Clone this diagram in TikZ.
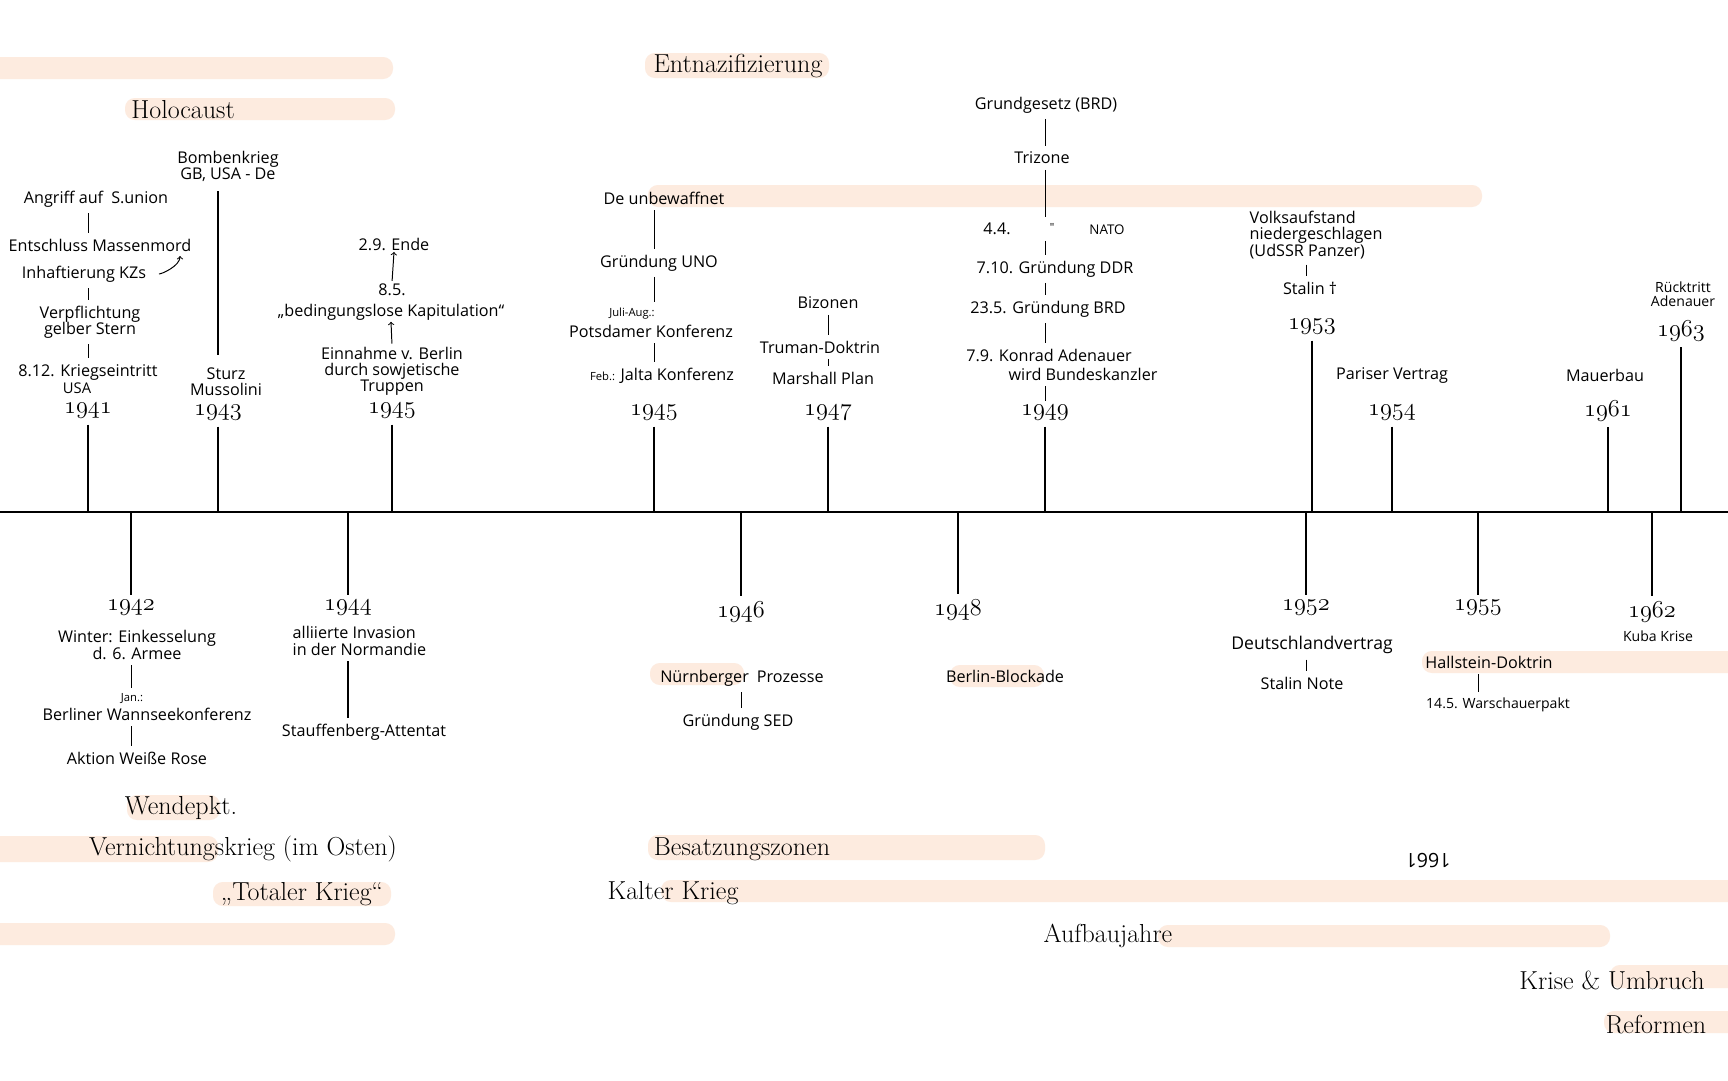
\documentclass[tikz,border=0pt]{standalone}
\usepackage{fontspec}
\newfontfamily\handfont{Open Sans}
\definecolor{peach}{RGB}{253,235,223}
\newcommand{\yr}[1]{{\usefont{OML}{cmm}{m}{it}#1}}
\tikzset{
  hand/.style={font=\handfont\fontsize{11.5}{11.5}\selectfont, inner sep=1pt, align=center},
  handsmall/.style={hand, font=\handfont\fontsize{8}{8}\selectfont},
  era/.style={font=\fontsize{18.5}{18.5}\selectfont, inner sep=0pt},
  year/.style={font=\fontsize{17}{17}\selectfont, inner sep=0pt},
  band/.style={fill=peach, rounded corners=7pt},
  stem/.style={line width=1.1pt},
  tick/.style={line width=0.7pt, shorten <=3pt, shorten >=3pt},
  axis/.style={line width=1.3pt}
}
\begin{document}
\begin{tikzpicture}[x=0.025cm, y=-0.025cm]
  \useasboundingbox[fill=white] (0,0) rectangle (1728,1080);

  % highlight bands
  \fill[band] (-20,57) rectangle (393,79);
  \fill[band] (125,98) rectangle (395,120);
  \fill[band] (645,53) rectangle (829,78);
  \fill[band] (648,185) rectangle (1482,207);
  \fill[band] (127,795) rectangle (220,820);
  \fill[band] (-20,836) rectangle (218,862);
  \fill[band] (213,882) rectangle (391,906);
  \fill[band] (-20,923) rectangle (395,945);
  \fill[band] (648,835) rectangle (1045,860);
  \fill[band] (661,880) rectangle (1750,902);
  \fill[band] (1158,925) rectangle (1610,947);
  \fill[band] (1610,965) rectangle (1750,988);
  \fill[band] (1604,1011) rectangle (1750,1033);
  \fill[band] (650,663) rectangle (744,685);
  \fill[band] (950,665) rectangle (1044,687);
  \fill[band] (1422,651) rectangle (1750,673);

  % axis
  \coordinate (axisL) at (0,512);
  \coordinate (axisR) at (1728,512);
  \draw[axis] (axisL) -- (axisR);

  % eras
  \node[era] (hol) at (183,110) {Holocaust};
  \node[era] (entn) at (738,66) {Entnazifizierung};
  \node[era] (wen) at (181,808) {Wendepkt.};
  \node[era] (vern) at (243,849) {Vernichtungskrieg (im Osten)};
  \node[era] (tot) at (302,894) {„Totaler Krieg“};
  \node[era] (besa) at (742,849) {Besatzungszonen};
  \node[era] (kalt) at (673,893) {Kalter Krieg};
  \node[era] (aufb) at (1108,936) {Aufbaujahre};
  \node[era] (kris) at (1612,980) {Krise \& Umbruch};
  \node[era] (refo) at (1656,1025) {Reformen};
  \node[hand, font=\handfont\fontsize{14}{14}\selectfont, rotate=180] (scrib) at (1428,861) {1661};

  % years above the axis
  \foreach \n/\x/\y/\t in {41/88/411/1941, 43/218/413/1943, 45a/392/411/1945, 45b/654/413/1945,
                           47/828/413/1947, 49/1045/413/1949, 53/1312/327/1953, 54/1392/413/1954,
                           61/1608/411/1961, 63/1681/331/1963}{
    \node[year] (y\n) at (\x,\y) {\yr{\t}};
    \draw[stem, shorten <=4pt] (y\n.south) -- (y\n.south |- axisL);
  }

  % years below the axis
  \foreach \n/\x/\y in {42/131/608, 44/348/608, 46/741/612, 48/958/610,
                        52/1306/608, 55/1478/608, 62/1652/612}{
    \node[year] (y\n) at (\x,\y) {\yr{19\n}};
    \draw[stem, shorten >=4pt] (y\n.north |- axisL) -- (y\n.north);
  }

  % 1941
  \node[hand] (ang41) at (96,199) {Angriff auf\enspace S.union};
  \node[hand] (ent41) at (100,245) {Entschluss Massenmord};
  \node[hand] (inh41) at (84,274) {Inhaftierung KZs};
  \node[hand] (ver41) at (90,322) {Verpflichtung\\gelber Stern};
  \node[hand] (kri41) at (88,372) {8.12. Kriegseintritt};
  \node[hand, inner sep=0pt, font=\handfont\fontsize{10.5}{10.5}\selectfont] (usa41) at (77,388) {USA};
  \coordinate (kzup) at (180,256);
  \draw[tick] (ang41.south -| y41) -- (ent41.north -| y41);
  \draw[tick] (inh41.south -| y41) -- (ver41.north -| y41);
  \draw[tick] (ver41.south -| y41) -- (kri41.north -| y41);
  \draw[->, line width=0.7pt, shorten <=8pt] (inh41.east) .. controls +(14,0) and +(0,10) .. (kzup);

  % 1943
  \node[hand] (bom43) at (228,166) {Bombenkrieg\\GB, USA - De};
  \node[hand] (stu43) at (226,382) {Sturz\\Mussolini};
  \draw[stem, shorten <=6pt, shorten >=8pt] (bom43.south -| y43) -- (stu43.north -| y43);

  % 1945, Kriegsende
  \node[hand] (end45) at (394,244) {2.9. Ende};
  \node[hand] (kap85) at (392,290) {8.5.};
  \node[hand] (kap45) at (391,312) {„bedingungslose Kapitulation“};
  \node[hand] (ein45) at (392,371) {Einnahme v. Berlin\\durch sowjetische\\Truppen};
  \draw[->, line width=0.7pt, shorten <=1pt] (kap85.north) -- (end45.south);
  \draw[->, line width=0.7pt, shorten <=1pt] (ein45.north) -- (kap45.south);

  % 1945, Konferenzen
  \node[hand] (unb45) at (664,198) {De unbewaffnet};
  \node[hand] (uno45) at (659,263) {Gründung UNO};
  \node[handsmall] (jul45) at (632,314) {Juli-Aug.:};
  \node[hand] (pot45) at (651,331) {Potsdamer Konferenz};
  \node[hand] (jal45) at (662,376) {{\fontsize{8}{8}\selectfont Feb.:} Jalta Konferenz};
  \draw[tick] (unb45.south -| y45b) -- (uno45.north -| y45b);
  \draw[tick] (uno45.south -| y45b) -- (jul45.north -| y45b);
  \draw[tick] (pot45.south -| y45b) -- (jal45.north -| y45b);

  % 1947
  \node[hand] (biz47) at (828,303) {Bizonen};
  \node[hand] (tru47) at (820,347) {Truman-Doktrin};
  \node[hand] (mar47) at (823,378) {Marshall Plan};
  \draw[tick] (biz47.south -| y47) -- (tru47.north -| y47);
  \draw[tick] (tru47.south -| y47) -- (mar47.north -| y47);

  % 1949
  \node[hand] (gg49) at (1046,105) {Grundgesetz (BRD)};
  \node[hand] (tri49) at (1042,158) {Trizone};
  \node[hand] (nat44) at (997,229) {4.4.};
  \node[handsmall] (dit49) at (1052,227) {"};
  \node[hand, font=\handfont\fontsize{9.5}{9.5}\selectfont] (nato49) at (1107,230) {NATO};
  \node[hand] (ddr49) at (1055,269) {7.10. Gründung DDR};
  \node[hand] (brd49) at (1048,309) {23.5. Gründung BRD};
  \node[hand] (ade49) at (1049,355) {7.9. Konrad Adenauer};
  \node[hand] (bk49) at (1083,374) {wird Bundeskanzler};
  \draw[tick] (gg49.south -| y49) -- (tri49.north -| y49);
  \draw[tick] (tri49.south -| y49) -- (nat44.north -| y49);
  \draw[tick] (nat44.south -| y49) -- (ddr49.north -| y49);
  \draw[tick] (ddr49.south -| y49) -- (brd49.north -| y49);
  \draw[tick] (brd49.south -| y49) -- (ade49.north -| y49);
  \draw[tick] (bk49.south -| y49) -- (y49.north);

  % 1953 bis 1963
  \node[hand, align=left, anchor=west] (vol53) at (1248,235) {Volksaufstand\\niedergeschlagen\\(UdSSR Panzer)};
  \node[hand] (sta53) at (1310,288) {Stalin †};
  \draw[tick] (vol53.south -| 1306,0) -- (sta53.north -| 1306,0);
  \node[hand] (par54) at (1392,375) {Pariser Vertrag};
  \node[hand] (mau61) at (1605,375) {Mauerbau};
  \node[hand, font=\handfont\fontsize{10}{10}\selectfont] (ruc63) at (1683,294) {Rücktritt\\Adenauer};

  % 1942
  \node[hand] (win42) at (137,645) {Winter: Einkesselung\\d. 6. Armee};
  \node[handsmall] (jan42) at (132,699) {Jan.:};
  \node[hand] (wan42) at (147,714) {Berliner Wannseekonferenz};
  \node[hand] (akt42) at (137,758) {Aktion Weiße Rose};
  \draw[tick] (win42.south -| y42) -- (jan42.north -| y42);
  \draw[tick] (wan42.south -| y42) -- (akt42.north -| y42);

  % 1944
  \node[hand, align=left, anchor=west] (inv44) at (291,641) {alliierte Invasion\\in der Normandie};
  \node[hand] (sta44) at (364,732) {Stauffenberg-Attentat};
  \draw[stem, line width=0.8pt, shorten <=3pt, shorten >=3pt] (inv44.south -| y44) -- (sta44.north -| y44);

  % 1946 und 1948
  \node[hand] (nur46) at (742,678) {Nürnberger\enspace Prozesse};
  \node[hand] (sed46) at (738,722) {Gründung SED};
  \draw[tick] (nur46.south -| y46) -- (sed46.north -| y46);
  \node[hand] (ber48) at (1005,676) {Berlin-Blockade};

  % 1952 bis 1962
  \node[hand, font=\handfont\fontsize{12.5}{12.5}\selectfont] (deu52) at (1312,645) {Deutschlandvertrag};
  \node[hand] (stn52) at (1302,683) {Stalin Note};
  \draw[tick] (deu52.south -| y52) -- (stn52.north -| y52);
  \node[hand] (hal55) at (1489,662) {Hallstein-Doktrin};
  \node[hand, font=\handfont\fontsize{10}{10}\selectfont] (war55) at (1498,705) {14.5. Warschauerpakt};
  \draw[tick] (hal55.south -| y55) -- (war55.north -| y55);
  \node[hand, font=\handfont\fontsize{10}{10}\selectfont] (kub62) at (1658,636) {Kuba Krise};
\end{tikzpicture}
\end{document}
